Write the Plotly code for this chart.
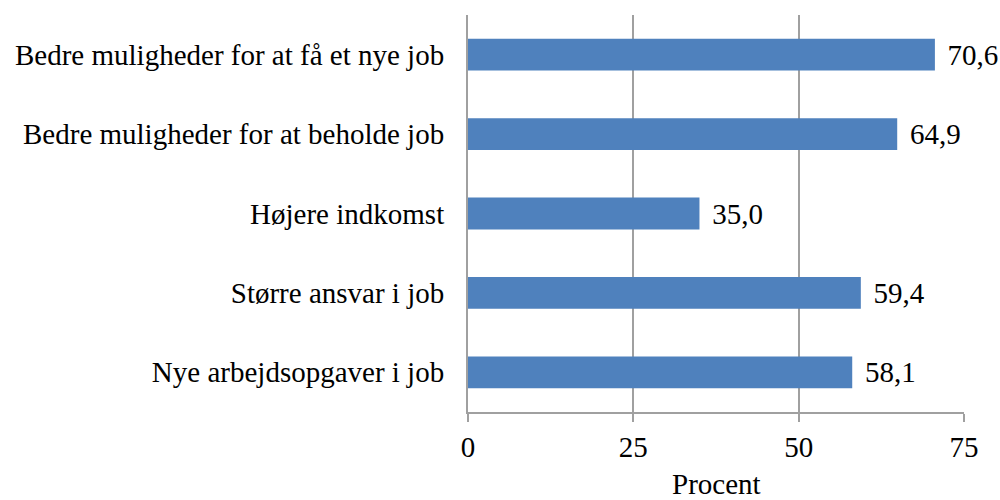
import plotly.graph_objects as go

# categories listed bottom to top as they appear on the chart
categories = [
    "Nye arbejdsopgaver i job",
    "Større ansvar i job",
    "Højere indkomst",
    "Bedre muligheder for at beholde job",
    "Bedre muligheder for at få et nye job",
]
values = [58.1, 59.4, 35.0, 64.9, 70.6]
x_ticks = [0, 25, 50, 75]

labels = ["\u2004" + f"{v:.1f}".replace(".", ",") for v in values]

serif = "Liberation Serif, Times New Roman, serif"
fs = 29
txt = dict(family=serif, size=fs, color="black")

fig = go.Figure()
fig.add_trace(go.Bar(
    y=categories,
    x=values,
    orientation="h",
    width=0.4,
    marker=dict(color="#4F81BD", line=dict(color="#4F81BD", width=0)),
    text=labels,
    textposition="outside",
    constraintext="none",
    textfont=txt,
    cliponaxis=False,
))

fig.update_layout(
    width=1000, height=500,
    margin=dict(l=468, r=36, t=15, b=88),
    plot_bgcolor="white", paper_bgcolor="white",
    font=txt,
    showlegend=False,
)
fig.update_xaxes(
    range=[0, 75], tickvals=x_ticks, automargin=False,
    tickfont=txt,
    showgrid=True, gridcolor="#A0A0A0", gridwidth=2,
    showline=True, linecolor="#A0A0A0", linewidth=2,
    ticks="outside", ticklen=8, tickcolor="#A0A0A0", tickwidth=2,
    zeroline=False,
)
fig.update_yaxes(
    automargin=False,
    tickfont=txt,
    showline=True, linecolor="#A0A0A0", linewidth=2,
    showgrid=False, ticks="", ticklabelstandoff=16,
)

# axis title as annotation, placed low near the bottom edge
fig.add_annotation(text="Procent", xref="paper", yref="paper", x=0.5, y=0,
                   yanchor="middle", yshift=-72, showarrow=False, font=txt)

# drop the browser's default 8px body margin so the figure sits at 0,0
fig.write_html("out.html", config={"displayModeBar": False},
               post_script="document.body.style.margin='0';")
